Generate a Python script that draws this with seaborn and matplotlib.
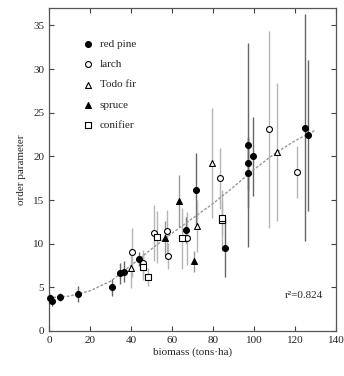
import matplotlib
matplotlib.use("Agg")
import matplotlib.pyplot as plt
import seaborn as sns
import pandas as pd

# ---- data ----
rp_x = [0.5, 1.5, 5.4, 14.0, 30.7, 34.6, 36.5, 43.9, 66.8, 71.7, 85.9, 97.0, 97.0, 97.0, 99.5, 124.9, 126.3]
rp_y = [3.8, 3.4, 3.9, 4.2, 5.0, 6.6, 6.8, 8.3, 11.6, 16.2, 9.5, 18.1, 19.2, 21.3, 20.0, 23.3, 22.4]
rp_e = [0.4, 0.5, 0.5, 0.9, 1.0, 1.2, 1.2, 0.8, 1.5, 4.2, 3.3, 4.0, 3.0, 11.7, 4.5, 13.0, 8.6]

la_x = [40.5, 45.9, 51.2, 57.6, 58.0, 67.3, 83.4, 107.3, 121.0]
la_y = [9.0, 7.8, 11.2, 11.4, 8.6, 10.6, 17.5, 23.1, 18.2]
la_e = [2.8, 1.5, 3.2, 2.5, 1.5, 3.0, 3.5, 11.3, 3.0]

tf_x = [40.0, 72.0, 79.5, 111.0]
tf_y = [7.2, 12.0, 19.2, 20.5]
tf_e = [2.3, 3.0, 6.3, 7.9]

sp_x = [56.6, 63.5, 70.7]
sp_y = [10.6, 14.9, 8.0]
sp_e = [2.0, 3.0, 1.2]

co_x = [46.0, 48.3, 52.6, 64.9, 84.4, 84.4]
co_y = [7.3, 6.2, 10.8, 10.6, 12.7, 13.0]
co_e = [1.5, 1.0, 3.0, 3.5, 3.5, 2.0]

fit_x = [0, 10, 20, 30, 40, 50, 60, 70, 80, 90, 100, 110, 120, 130]
fit_y = [3.8, 4.0, 4.6, 5.7, 7.5, 9.4, 11.2, 12.9, 14.6, 16.5, 18.5, 20.3, 21.8, 23.0]

species = ["red pine", "larch", "Todo fir", "spruce", "conifier"]
x_ticks = [0, 20, 40, 60, 80, 100, 120, 140]
y_ticks = [0, 5, 10, 15, 20, 25, 30, 35]
r2_text = "r²=0.824"

groups = [(rp_x, rp_y, rp_e), (la_x, la_y, la_e), (tf_x, tf_y, tf_e),
          (sp_x, sp_y, sp_e), (co_x, co_y, co_e)]
rows = []
for name, (gx, gy, ge) in zip(species, groups):
    for a, b, c in zip(gx, gy, ge):
        rows.append({"biomass": a, "order": b, "err": c, "species": name})
df = pd.DataFrame(rows)

sns.set_style("ticks")
plt.rcParams["font.family"] = ["Liberation Serif", "DejaVu Serif"]

fig = plt.figure(figsize=(3.44, 3.76), dpi=100)
ax = fig.add_axes([49/344, 45/376, 287/344, 323/376])

# error bars
ecolors = {"red pine": "#666666", "larch": "#b5b5b5", "Todo fir": "#b5b5b5",
           "spruce": "#999999", "conifier": "#b5b5b5"}
for name in species:
    sub = df[df.species == name]
    ax.errorbar(sub.biomass, sub.order, yerr=sub.err, fmt="none",
                ecolor=ecolors[name], elinewidth=1.0, capsize=0, zorder=1)

# fitted curve
sns.lineplot(x=fit_x, y=fit_y, ax=ax, color="#999999", lw=1.0,
             linestyle=(0, (2, 1.2)), zorder=2)

markers = {"red pine": "o", "larch": "o", "Todo fir": "^", "spruce": "^", "conifier": "s"}
faces = {"red pine": "black", "larch": "white", "Todo fir": "white",
         "spruce": "black", "conifier": "white"}
for name in species:
    sub = df[df.species == name]
    sns.scatterplot(data=sub, x="biomass", y="order", ax=ax, marker=markers[name],
                    color=faces[name], edgecolor="black", linewidth=0.8, s=18,
                    label=name, zorder=3, clip_on=False)

ax.set_xlim(0, 140)
ax.set_ylim(0, 37)
ax.set_xticks(x_ticks)
ax.set_yticks(y_ticks)
ax.tick_params(direction="in", top=True, right=True, length=3.5, width=0.8,
               labelsize=8, colors="#444444", labelcolor="#222222")
for sp in ax.spines.values():
    sp.set_color("#555555")
    sp.set_linewidth(0.9)
ax.set_xlabel("biomass (tons·ha)", fontsize=8, labelpad=2)
ax.set_ylabel("order parameter", fontsize=8, labelpad=5)
ax.text(0.955, 0.095, r2_text, transform=ax.transAxes, ha="right", va="bottom", fontsize=8)

leg = ax.legend(loc="upper left", bbox_to_anchor=(0.08, 0.935), frameon=False,
                fontsize=8, handletextpad=0.6, labelspacing=0.95, markerscale=1.0,
                handlelength=1.0)

fig.savefig("out.png", dpi=100)
